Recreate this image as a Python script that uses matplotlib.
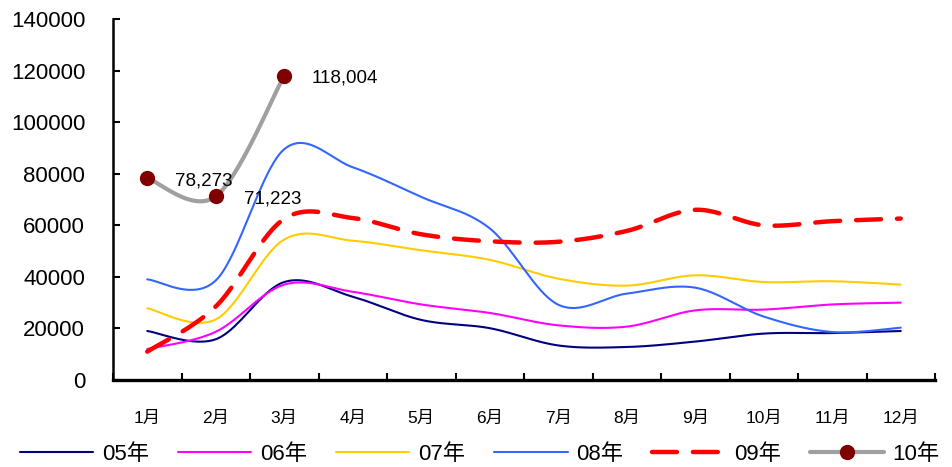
import numpy as np
import matplotlib
matplotlib.use("Agg")
import matplotlib.pyplot as plt
from matplotlib.lines import Line2D

plt.rcParams['font.family'] = ['Liberation Sans', 'Noto Sans CJK SC', 'DejaVu Sans']

months = ['1月', '2月', '3月', '4月', '5月', '6月', '7月', '8月', '9月', '10月', '11月', '12月']

y05 = [19000, 15800, 38000, 32300, 23300, 20100, 13400, 12800, 14900, 18000, 18200, 19000]
y06 = [12000, 18700, 37000, 34200, 29300, 26000, 21200, 20700, 27000, 27300, 29300, 30000]
y07 = [27800, 23500, 54500, 54000, 50300, 46600, 39300, 36600, 40600, 38000, 38300, 37000]
y08 = [39000, 38600, 89500, 82500, 71000, 58800, 29200, 33500, 35800, 24600, 18600, 20300]
y09 = [11000, 28500, 62500, 62800, 56500, 53800, 53600, 57800, 66000, 60000, 61600, 62600]
y10 = [78273, 71223, 118004]

series_names = ['05年', '06年', '07年', '08年', '09年', '10年']


def smooth(xs, ys, n=40):
    """Cardinal (Catmull-Rom style) Bezier smoothing through every point."""
    pts = np.column_stack([xs, ys]).astype(float)
    P = np.vstack([pts[0], pts, pts[-1]])
    t = np.linspace(0, 1, n)[:, None]
    out = []
    for i in range(len(pts) - 1):
        p0, p1, p2, p3 = P[i], P[i + 1], P[i + 2], P[i + 3]
        c1 = p1 + (p2 - p0) / 6.0
        c2 = p2 - (p3 - p1) / 6.0
        seg = ((1 - t) ** 3) * p1 + 3 * ((1 - t) ** 2) * t * c1 \
            + 3 * (1 - t) * t ** 2 * c2 + t ** 3 * p2
        out.append(seg if i == 0 else seg[1:])
    arr = np.vstack(out)
    return arr[:, 0], arr[:, 1]


fig = plt.figure(figsize=(9.52, 4.67), dpi=100)
ax = fig.add_axes([113 / 952, 1 - 380 / 467, (935 - 113) / 952, (380 - 19) / 467])

x = np.arange(1, 13)

styles = [
    (y05, dict(color='#000080', lw=1.5)),
    (y06, dict(color='#FF00FF', lw=1.5)),
    (y07, dict(color='#FFCC00', lw=1.5)),
    (y08, dict(color='#3366FF', lw=1.5)),
    (y09, dict(color='#FF0000', lw=3.2, dashes=(5.6, 3.6), dash_capstyle='round')),
]

handles = []
for (vals, kw), name in zip(styles, series_names):
    sx, sy = smooth(x[:len(vals)], vals)
    ln, = ax.plot(sx, sy, solid_capstyle='round', label=name, **kw)
    handles.append(ln)

x10 = x[:len(y10)]
sx, sy = smooth(x10, y10)
ax.plot(sx, sy, color='#A0A0A0', lw=3, solid_capstyle='round', zorder=5)
ax.plot(x10, y10, 'o', color='#800000', ms=10, zorder=6)
handles.append(Line2D([], [], color='#A0A0A0', lw=3, marker='o', ms=10,
                      mfc='#800000', mec='#800000', solid_capstyle='round',
                      label=series_names[5]))

for xi, yi in zip(x10, y10):
    ax.annotate(f'{yi:,}', (xi, yi), xytext=(20, -2), textcoords='offset points',
                ha='left', va='center', fontsize=13.5, zorder=7)

ax.set_xlim(0.5, 12.5)
ax.set_ylim(0, 140000)
ax.set_yticks(np.arange(0, 140001, 20000))
ax.set_yticklabels([str(v) for v in range(0, 140001, 20000)])
ax.set_xticks(x)
ax.set_xticklabels(months)
ax.set_xticks(np.arange(0.5, 12.6, 1), minor=True)

ax.tick_params(axis='y', direction='in', length=5, width=1.5, labelsize=16, pad=20)
ax.tick_params(axis='x', which='major', length=0, labelsize=12.5, pad=22)
ax.tick_params(axis='x', which='minor', direction='in', length=5, width=1.5)

for s in ['top', 'right']:
    ax.spines[s].set_visible(False)
ax.spines['left'].set_linewidth(1.8)
ax.spines['bottom'].set_linewidth(2.4)

fig.legend(handles=handles, loc='center', bbox_to_anchor=(0.504, 1 - 454 / 467),
           ncol=6, frameon=False, fontsize=16, handlelength=3.3,
           handletextpad=0.4, columnspacing=1.3, borderpad=0.2)

fig.savefig('out.png', dpi=100)
